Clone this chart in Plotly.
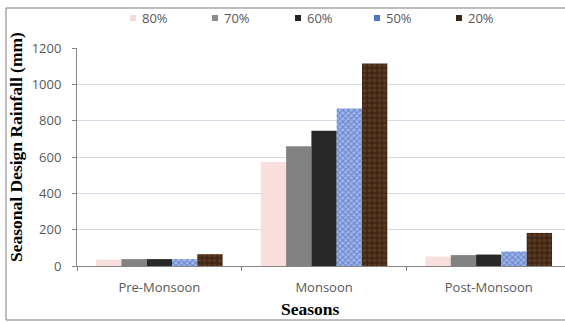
import plotly.graph_objects as go

# Seasonal design rainfall (mm) at different probability levels
seasons = ["Pre-Monsoon", "Monsoon", "Post-Monsoon"]
levels = ["80%", "70%", "60%", "50%", "20%"]
rain_80 = [35, 573, 52]
rain_70 = [38, 659, 60]
rain_60 = [38, 744, 63]
rain_50 = [38, 867, 80]
rain_20 = [65, 1115, 182]
y_ticks = [0, 200, 400, 600, 800, 1000, 1200]

series = [rain_80, rain_70, rain_60, rain_50, rain_20]

# bar fills: plain colours for the first three, textured fills for the last two
styles = [
    dict(color="#F9DEDE"),
    dict(color="#828282"),
    dict(color="#282828"),
    dict(color="#86A3E6",
         pattern=dict(shape="x", fgcolor="#34539F", bgcolor="#9DB6EE", size=4, solidity=0.45)),
    dict(color="#4B2E1C",
         pattern=dict(shape=".", fgcolor="#74492A", bgcolor="#3F2616", size=5, solidity=0.5)),
]
swatch = ["#F4DADA", "#8C8C8C", "#222222", "#4F74C8", "#3B2616"]

W, H = 565, 322
ML, MR, MT, MB = 77, 0, 48, 56
PW, PH = W - ML - MR, H - MT - MB

def px_x(x):
    return (x - ML) / PW

def px_y(y):
    return (H - MB - y) / PH

fig = go.Figure()
for name, vals, st in zip(levels, series, styles):
    fig.add_trace(go.Bar(x=seasons, y=vals, name=name, marker=st,
                         marker_line_width=0, showlegend=False))

font_tick = dict(family="Open Sans", size=13, color="#595959")
shapes = []
annotations = []

# legend row across the top
leg_x = [133, 215, 298, 377, 459]
leg_y = 18
for lx, name, col in zip(leg_x, levels, swatch):
    shapes.append(dict(type="rect", xref="paper", yref="paper",
                       x0=px_x(lx - 3), x1=px_x(lx + 3),
                       y0=px_y(leg_y + 3), y1=px_y(leg_y - 3),
                       fillcolor=col, line_width=0))
    annotations.append(dict(text=name, xref="paper", yref="paper",
                            x=px_x(lx + 7), y=px_y(leg_y), xanchor="left", yanchor="middle",
                            showarrow=False, font=font_tick))

# outer chart frame
shapes.append(dict(type="rect", xref="paper", yref="paper",
                   x0=px_x(6), x1=px_x(W + 20), y0=px_y(320), y1=px_y(8),
                   line=dict(color="#7F7F7F", width=1), fillcolor="rgba(0,0,0,0)", layer="above"))

# axis titles
annotations.append(dict(text="<b>Seasonal Design Rainfall (mm)</b>", textangle=-90,
                        xref="paper", yref="paper", x=px_x(16), y=px_y(147),
                        xanchor="center", yanchor="middle", showarrow=False,
                        font=dict(family="Liberation Serif", size=17.5, color="#000000")))
annotations.append(dict(text="<b>Seasons</b>", xref="paper", yref="paper",
                        x=px_x(310), y=px_y(309), xanchor="center", yanchor="middle",
                        showarrow=False,
                        font=dict(family="Liberation Serif", size=17.5, color="#000000")))

cat_px = 164.7
fig.update_layout(
    width=W, height=H,
    margin=dict(l=ML, r=MR, t=MT, b=MB),
    paper_bgcolor="white", plot_bgcolor="white",
    barmode="group", bargap=0.232, bargroupgap=0,
    shapes=shapes, annotations=annotations,
    xaxis=dict(type="category", range=[-0.5, -0.5 + PW / cat_px],
               tickson="boundaries", ticks="outside", ticklen=4, tickcolor="#868686",
               showline=True, linecolor="#868686", linewidth=1,
               showgrid=False, tickfont=font_tick, ticklabelstandoff=9),
    yaxis=dict(range=[0, 1200], tickvals=y_ticks, ticks="outside", ticklen=4,
               tickcolor="#868686", showline=True, linecolor="#868686", linewidth=1,
               gridcolor="#D5DCE5", gridwidth=1, zeroline=False,
               tickfont=font_tick, ticklabelstandoff=8),
)

fig.write_html("out.html")
